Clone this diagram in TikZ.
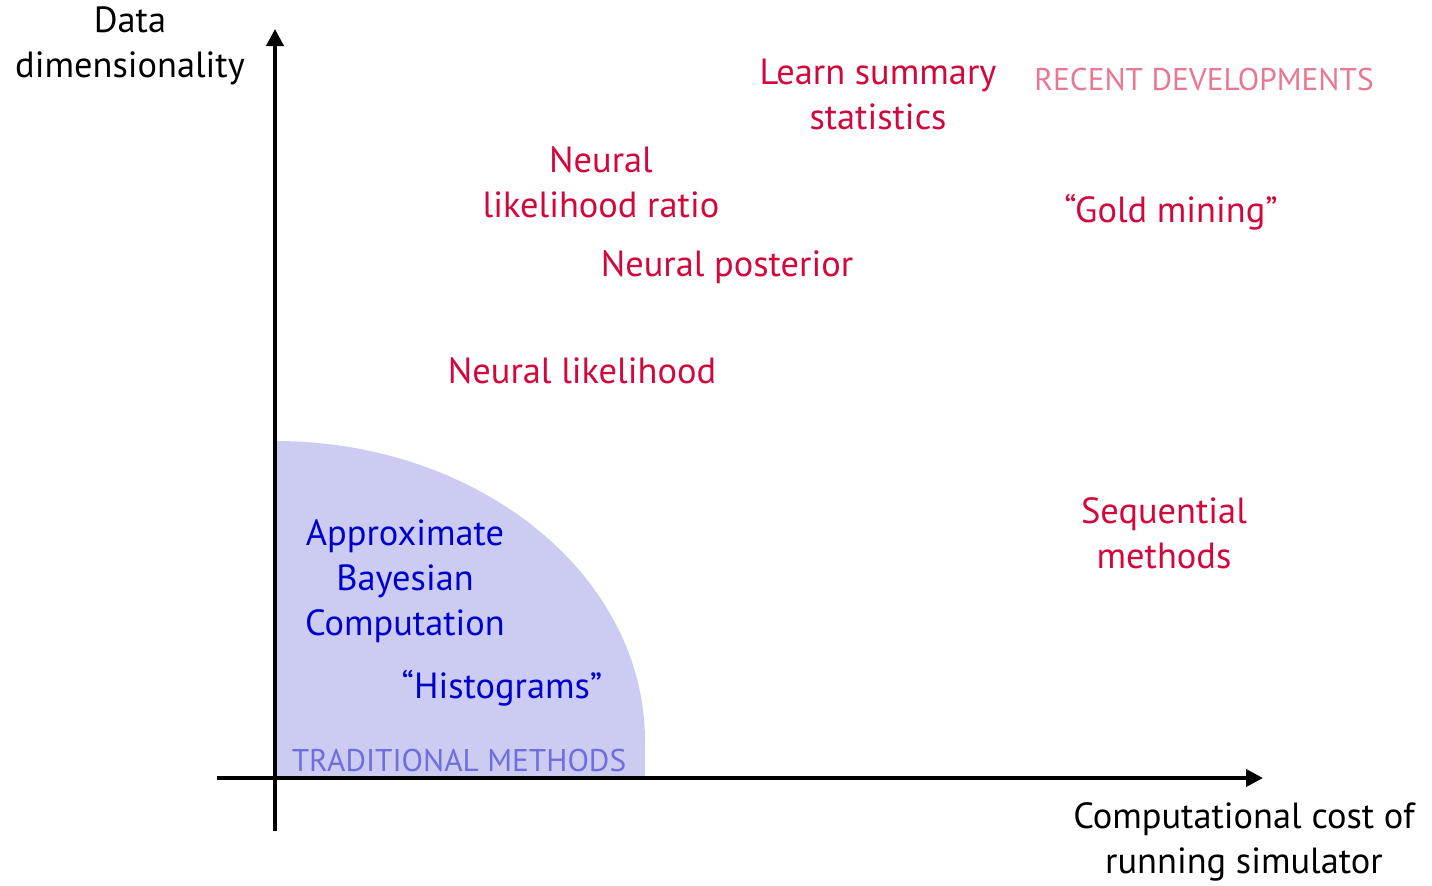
\documentclass[tikz,border=0pt]{standalone}
\usepackage{fontspec}
\setmainfont{PT Sans}
\usetikzlibrary{arrows.meta}
\definecolor{mred}{RGB}{210,8,60}
\definecolor{mblue}{RGB}{0,0,205}
\definecolor{mfill}{RGB}{204,204,242}
\definecolor{mtrad}{RGB}{110,110,220}
\definecolor{mpink}{RGB}{232,120,145}
\tikzset{
  lbl/.style={align=center,inner sep=0pt,font=\fontsize{18.2}{22.5}\selectfont},
  redlbl/.style={lbl,text=mred},
  bluelbl/.style={lbl,text=mblue},
  axis/.style={line width=1.9pt,-{Triangle[length=8.5pt,width=8.5pt]}},
}
\begin{document}
\begin{tikzpicture}[x=0.5pt,y=-0.5pt]
\useasboundingbox (0,0) rectangle (1432,885);
% traditional region
\fill[mfill] (275,778) -- (275,441) arc[start angle=-90,end angle=0,x radius=370,y radius=300] -- (645,778) -- cycle;
% axes
\coordinate (yb) at (275,831);
\coordinate (yt) at (275,29);
\coordinate (xl) at (217,778);
\coordinate (xr) at (1263,778);
\draw[axis] (yb) -- (yt);
\draw[axis] (xl) -- (xr);
% axis labels
\node[lbl] (ylab) at (130,46) {Data\\dimensionality};
\node[lbl] (xlab) at (1244,842) {Computational cost of\\running simulator};
% recent methods
\node[redlbl] (lss) at (878,94) {Learn summary\\statistics};
\node[lbl,text=mpink,font=\fontsize{15.7}{18}\selectfont] (recent) at (1204,80) {RECENT DEVELOPMENTS};
\node[redlbl] (nlr) at (601,182) {Neural\\likelihood ratio};
\node[redlbl] (gold) at (1171,212) {“Gold mining”};
\node[redlbl] (npost) at (727,267) {Neural posterior};
\node[redlbl] (nlik) at (582,371) {Neural likelihood};
\node[redlbl] (seq) at (1164,533) {Sequential\\methods};
% traditional methods
\node[bluelbl] (abc) at (405,581) {Approximate\\Bayesian\\Computation};
\node[bluelbl] (hist) at (502,688) {“Histograms”};
\node[lbl,text=mtrad,font=\fontsize{15.7}{18}\selectfont] (trad) at (459,760) {TRADITIONAL METHODS};
\end{tikzpicture}
\end{document}
